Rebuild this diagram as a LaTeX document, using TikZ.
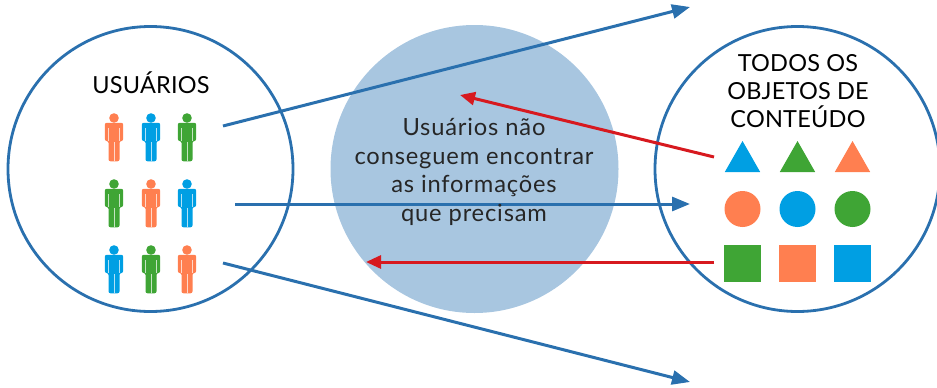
\documentclass[tikz,border=0pt]{standalone}
\usepackage{fontspec}
\setmainfont{Lato}
\newfontfamily\midfont[LetterSpace=3.5]{Lato}
\newfontfamily\labfont[LetterSpace=1]{Lato}
\usetikzlibrary{arrows.meta}
\definecolor{cblue}{HTML}{2A70AE}
\definecolor{cred}{HTML}{D7191F}
\definecolor{cmid}{HTML}{A8C6E0}
\definecolor{iorange}{HTML}{FF7F50}
\definecolor{iblue}{HTML}{009FE3}
\definecolor{igreen}{HTML}{3FA535}
\tikzset{
  x=1pt,y=-1pt,
  ring/.style={circle,draw=cblue,line width=2.8pt,minimum size=285pt,inner sep=0pt},
  midc/.style={circle,fill=cmid,minimum size=288pt,inner sep=0pt},
  bluearrow/.style={draw=cblue,line width=3pt,-{Triangle[length=18pt,width=14pt]}},
  redarrow/.style={draw=cred,line width=3pt,-{Triangle[length=15pt,width=13pt]}},
  lab/.style={font=\labfont\fontsize{23.5}{28}\selectfont,align=center,text=black},
  midlab/.style={font=\midfont\fontsize{23.7}{28.6}\selectfont,align=center,text=black!85},
}
\newcommand{\person}[3]{%
  \begin{scope}[shift={(#1,#2)}]
    \fill[#3] (0,0) circle (4.8);
    \fill[#3,rounded corners=2pt] (-9.2,4.8) -- (9.2,4.8) -- (9.2,23) -- (5.5,23) -- (5.5,43.3) -- (-5.5,43.3) -- (-5.5,23) -- (-9.2,23) -- cycle;
    \draw[white!70!#3,line width=.7pt] (5.6,10) -- (5.6,23) (-5.6,10) -- (-5.6,23) (0,24) -- (0,43.3);
  \end{scope}}
\newcommand{\trishape}[2]{\fill[#2] (#1-17.7,172) -- (#1+17.7,172) -- (#1,141) -- cycle;}
\begin{document}
\begin{tikzpicture}
\useasboundingbox (0,0) rectangle (937,388);
\node[midc] (mid) at (474.5,169) {};
\node[ring] (left) at (150.5,169) {};
\node[ring] (right) at (797.5,169) {};
\coordinate (bs1) at (223,126); \coordinate (be1) at (690,7);
\coordinate (bs2) at (235,204); \coordinate (be2) at (690,204);
\coordinate (bs3) at (223,263); \coordinate (be3) at (690,382);
\coordinate (rs1) at (714,157); \coordinate (re1) at (460,95);
\coordinate (rs2) at (714,262); \coordinate (re2) at (366,262);
\draw[bluearrow] (bs1) -- (be1);
\draw[bluearrow] (bs2) -- (be2);
\draw[bluearrow] (bs3) -- (be3);
\draw[redarrow] (rs1) -- (re1);
\draw[redarrow] (rs2) -- (re2);
\node[lab] (tusers) at (151,83) {USUÁRIOS};
\node[lab] (tobj) at (798,91) {TODOS OS\\OBJETOS DE\\CONTEÚDO};
\node[midlab] (tmid) at (474,172) {Usuários não\\conseguem encontrar\\as informações\\que precisam};
\person{114}{118}{iorange}\person{151}{118}{iblue}\person{187}{118}{igreen}
\person{114}{184}{igreen}\person{151}{184}{iorange}\person{187}{184}{iblue}
\person{114}{250}{iblue}\person{151}{250}{igreen}\person{187}{250}{iorange}
\trishape{742.5}{iblue}\trishape{797.5}{igreen}\trishape{852.5}{iorange}
\fill[iorange] (742.5,209) circle (18);
\fill[iblue] (797.5,209) circle (18);
\fill[igreen] (852.5,209) circle (18);
\fill[igreen] (724,245) rectangle (761,282);
\fill[iorange] (779,245) rectangle (816,282);
\fill[iblue] (834,245) rectangle (871,282);
\end{tikzpicture}
\end{document}
